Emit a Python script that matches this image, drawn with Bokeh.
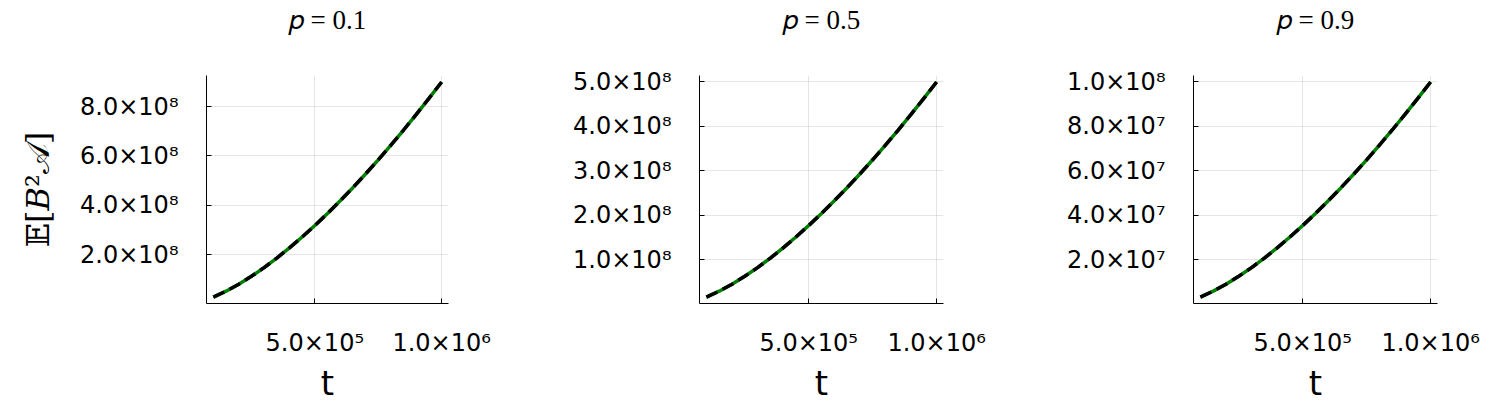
from bokeh.plotting import figure
from bokeh.layouts import row
from bokeh.models import Range1d, FixedTicker, Title
from bokeh.embed import file_html
from bokeh.resources import INLINE

# ---------------- data ----------------
t = [1.0e5, 1.5e5, 2.0e5, 2.5e5, 3.0e5, 3.5e5, 4.0e5, 4.5e5, 5.0e5, 5.5e5,
     6.0e5, 6.5e5, 7.0e5, 7.5e5, 8.0e5, 8.5e5, 9.0e5, 9.5e5, 1.0e6]

titles = ["𝑝 = 0.1", "𝑝 = 0.5", "𝑝 = 0.9"]

sim_p01 = [2.846e7, 5.228e7, 8.050e7, 1.125e8, 1.479e8, 1.864e8, 2.277e8, 2.717e8, 3.182e8, 3.671e8,
           4.183e8, 4.716e8, 5.271e8, 5.846e8, 6.440e8, 7.053e8, 7.684e8, 8.333e8, 9.0e8]
theory_p01 = [2.846e7, 5.228e7, 8.050e7, 1.125e8, 1.479e8, 1.864e8, 2.277e8, 2.717e8, 3.182e8, 3.671e8,
              4.183e8, 4.716e8, 5.271e8, 5.846e8, 6.440e8, 7.053e8, 7.684e8, 8.333e8, 9.0e8]

sim_p05 = [1.581e7, 2.905e7, 4.472e7, 6.250e7, 8.216e7, 1.035e8, 1.265e8, 1.509e8, 1.768e8, 2.039e8,
           2.324e8, 2.620e8, 2.928e8, 3.248e8, 3.578e8, 3.918e8, 4.269e8, 4.630e8, 5.0e8]
theory_p05 = [1.581e7, 2.905e7, 4.472e7, 6.250e7, 8.216e7, 1.035e8, 1.265e8, 1.509e8, 1.768e8, 2.039e8,
              2.324e8, 2.620e8, 2.928e8, 3.248e8, 3.578e8, 3.918e8, 4.269e8, 4.630e8, 5.0e8]

sim_p09 = [3.16e6, 5.81e6, 8.94e6, 1.250e7, 1.643e7, 2.071e7, 2.530e7, 3.019e7, 3.536e7, 4.079e7,
           4.648e7, 5.240e7, 5.857e7, 6.495e7, 7.155e7, 7.837e7, 8.538e7, 9.259e7, 1.0e8]
theory_p09 = [3.16e6, 5.81e6, 8.94e6, 1.250e7, 1.643e7, 2.071e7, 2.530e7, 3.019e7, 3.536e7, 4.079e7,
              4.648e7, 5.240e7, 5.857e7, 6.495e7, 7.155e7, 7.837e7, 8.538e7, 9.259e7, 1.0e8]

xticks = [5.0e5, 1.0e6]
xtick_labels = ["5.0×10⁵", "1.0×10⁶"]

yticks_p01 = [2.0e8, 4.0e8, 6.0e8, 8.0e8]
ytick_labels_p01 = ["2.0×10⁸", "4.0×10⁸", "6.0×10⁸", "8.0×10⁸"]
yticks_p05 = [1.0e8, 2.0e8, 3.0e8, 4.0e8, 5.0e8]
ytick_labels_p05 = ["1.0×10⁸", "2.0×10⁸", "3.0×10⁸", "4.0×10⁸", "5.0×10⁸"]
yticks_p09 = [2.0e7, 4.0e7, 6.0e7, 8.0e7, 1.0e8]
ytick_labels_p09 = ["2.0×10⁷", "4.0×10⁷", "6.0×10⁷", "8.0×10⁷", "1.0×10⁸"]

x_label = "t"
y_label = "𝔼[𝐵²𝒜]"


def padded(vals, frac=0.03):
    lo, hi = min(vals), max(vals)
    span = hi - lo
    return Range1d(lo - frac * span, hi + frac * span)


def panel(title, sim, theory, yt, ytl, left, fw, right, ylab=None):
    p = figure(frame_width=fw, frame_height=228,
               min_border_left=left, min_border_right=right,
               min_border_top=75, min_border_bottom=95,
               x_range=padded(t), y_range=padded(sim + theory),
               output_backend="svg", toolbar_location=None)
    p.outline_line_color = None
    p.background_fill_color = "white"
    p.border_fill_color = "white"

    # invisible spacer nearest the frame, then the real title above it
    p.add_layout(Title(text=" ", text_font_size="10px", standoff=28), "above")
    p.add_layout(Title(text=title, align="center", text_font="Liberation Serif",
                       text_font_size="27px", text_font_style="normal",
                       text_color="#000000", standoff=0), "above")

    p.xaxis.ticker = FixedTicker(ticks=xticks)
    p.xaxis.major_label_overrides = {v: s for v, s in zip(xticks, xtick_labels)}
    p.yaxis.ticker = FixedTicker(ticks=yt)
    p.yaxis.major_label_overrides = {v: s for v, s in zip(yt, ytl)}

    for ax in (p.xaxis[0], p.yaxis[0]):
        ax.axis_line_color = "#000000"
        ax.axis_line_width = 1
        ax.major_tick_in = 5
        ax.major_tick_out = 0
        ax.major_tick_line_color = "#000000"
        ax.minor_tick_line_color = None
        ax.major_label_text_font = "DejaVu Sans"
        ax.major_label_text_font_size = "24px"
        ax.major_label_text_color = "#000000"
        ax.axis_label_text_color = "#000000"
        ax.axis_label_text_font_style = "normal"

    p.xaxis.major_label_standoff = 25
    p.yaxis.major_label_standoff = 28
    p.xaxis.axis_label = x_label
    p.xaxis.axis_label_text_font = "DejaVu Sans"
    p.xaxis.axis_label_text_font_size = "34px"
    p.xaxis.axis_label_standoff = 3
    if ylab:
        p.yaxis.axis_label = ylab
        p.yaxis.axis_label_text_font = "DejaVu Serif"
        p.yaxis.axis_label_text_font_size = "32px"
        p.yaxis.axis_label_standoff = 20

    p.xgrid.grid_line_color = "#000000"
    p.xgrid.grid_line_alpha = 0.1
    p.ygrid.grid_line_color = "#000000"
    p.ygrid.grid_line_alpha = 0.1

    p.line(t, sim, line_color="#008000", line_width=3.5)
    p.line(t, theory, line_color="#000000", line_width=3.5, line_dash="12 6")
    return p


f1 = panel(titles[0], sim_p01, theory_p01, yticks_p01, ytick_labels_p01, 206, 242, 52, y_label)
f2 = panel(titles[1], sim_p05, theory_p05, yticks_p05, ytick_labels_p05, 199, 244, 50)
f3 = panel(titles[2], sim_p09, theory_p09, yticks_p09, ytick_labels_p09, 200, 244, 55)

layout = row(f1, f2, f3, spacing=0)
open("out.html", "w").write(file_html(layout, INLINE))
